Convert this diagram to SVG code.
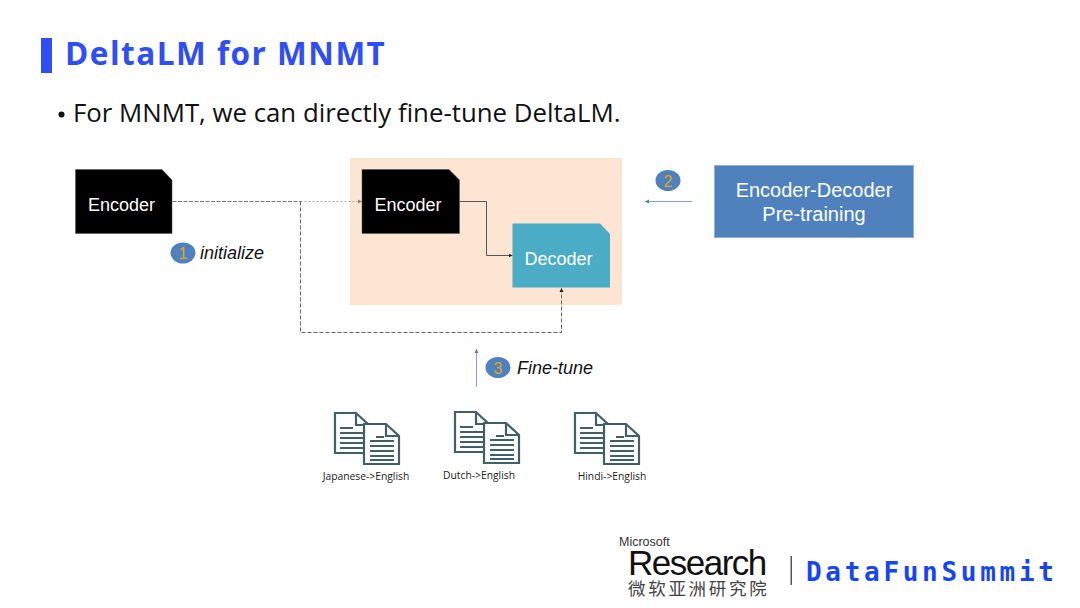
<svg xmlns="http://www.w3.org/2000/svg" width="1080" height="608" viewBox="0 0 1080 608">
  <style>
    .box-label { font: 18px "Liberation Sans", Arial, sans-serif; fill: #fff; text-anchor: middle; }
    .box-label-lg { font: 20px "Liberation Sans", Arial, sans-serif; fill: #fff; text-anchor: middle; }
    .step { font: italic 18px "Liberation Sans", Arial, sans-serif; fill: #111; }
    .badge { fill: #4f81bd; }
    .badge-num { font: 16px "Liberation Sans", Arial, sans-serif; fill: #e0a820; text-anchor: middle; }
    .doc-label { font: 10.300px "Open Sans", "Noto Sans", sans-serif; fill: #222; text-anchor: middle; }
    .wire { fill: none; stroke-width: 1; }
    .page { fill: #fff; stroke: #3f6068; stroke-width: 2.200; }
    .rule { stroke: #3f6068; stroke-width: 2.200; fill: none; }
  </style>
  <defs>
    <marker id="tip-dark" markerWidth="5" markerHeight="5" refX="4" refY="2.5" orient="auto" markerUnits="userSpaceOnUse"><path d="M0 0.5L4 2.5L0 4.5z" fill="#222"/></marker>
    <marker id="tip-grey" markerWidth="5" markerHeight="5" refX="4" refY="2.5" orient="auto" markerUnits="userSpaceOnUse"><path d="M0 0.5L4 2.5L0 4.5z" fill="#888"/></marker>
    <marker id="tip-blue" markerWidth="5" markerHeight="5" refX="4" refY="2.5" orient="auto" markerUnits="userSpaceOnUse"><path d="M0 0.5L4 2.5L0 4.5z" fill="#4f81bd"/></marker>
    <g id="doc-pair">
      <path class="page" d="M1 1H22L35 13V41H1z"/>
      <path class="rule" d="M22 1V13H35M6 16H19M6 21H30M6 26H30M6 31H30M6 36H30"/>
      <path class="page" d="M30 12H52L65 24V52H30z"/>
      <path class="rule" d="M52 12V24H65M42 25H50M36 29H60M36 34H60M36 39H60M36 44H60M36 48H60"/>
    </g>
  </defs>

  <rect width="1080" height="608" fill="#fff"/>

  <!-- Heading -->
  <rect x="41" y="38" width="11" height="35" fill="#2f4ef5"/>
  <text x="65" y="65" font-family="'Open Sans','Noto Sans',sans-serif" font-weight="700" font-size="31.500" letter-spacing="1.500" fill="#2f4ef5">DeltaLM for MNMT</text>
  <circle cx="61.500" cy="114.500" r="3" fill="#111"/>
  <text x="73" y="122" font-family="'Open Sans','Noto Sans',sans-serif" font-size="25.800" fill="#111">For MNMT, we can directly fine-tune DeltaLM.</text>

  <!-- Shaded model area -->
  <rect x="350" y="158" width="272" height="147" fill="#fde5d4"/>

  <!-- Connectors -->
  <g id="connectors">
    <path class="wire" d="M172.500 201.500H300.500" stroke="#777" stroke-dasharray="4 1.500"/>
    <path class="wire" d="M300.500 201.500H362" stroke="#aaa" stroke-dasharray="2 2" marker-end="url(#tip-grey)"/>
    <path class="wire" d="M300.500 201.500V332.500H561.500V288" stroke="#666" stroke-dasharray="4 2" marker-end="url(#tip-dark)"/>
    <path class="wire" d="M459.500 201.500H486.500V255.500H512.500" stroke="#555" marker-end="url(#tip-dark)"/>
    <path class="wire" d="M692 201.500H645" stroke="#7da5d6" marker-end="url(#tip-blue)"/>
    <path class="wire" d="M476.500 387V349" stroke="#7da5d6" marker-end="url(#tip-blue)"/>
  </g>

  <!-- Nodes -->
  <g id="encoder-source">
    <path d="M75.500 169.500H162L172 180V233.500H75.500z" fill="#000" stroke="#555" stroke-width="0.500"/>
    <text class="box-label" x="121.500" y="211">Encoder</text>
  </g>
  <g id="encoder-target">
    <path d="M362 169.500H449L459.500 180V233.500H362z" fill="#000" stroke="#555" stroke-width="0.500"/>
    <text class="box-label" x="408" y="211">Encoder</text>
  </g>
  <g id="decoder">
    <path d="M512.500 223.500H600L610 234V287.500H512.500z" fill="#4bacc6"/>
    <text class="box-label" x="558.500" y="265">Decoder</text>
  </g>
  <g id="pretraining">
    <rect x="714.500" y="165.500" width="199" height="72" fill="#4f81bd" stroke="#8fb0d8"/>
    <text class="box-label-lg" x="814" y="197">Encoder-Decoder</text>
    <text class="box-label-lg" x="814" y="221">Pre-training</text>
  </g>

  <!-- Numbered steps -->
  <g id="step-1">
    <ellipse class="badge" cx="183" cy="253" rx="12.500" ry="10.500"/>
    <text class="badge-num" x="183" y="259">1</text>
    <text class="step" x="200" y="259">initialize</text>
  </g>
  <g id="step-2">
    <ellipse class="badge" cx="668" cy="180.500" rx="12.500" ry="10.500"/>
    <text class="badge-num" x="668" y="186.500">2</text>
  </g>
  <g id="step-3">
    <ellipse class="badge" cx="498" cy="367.500" rx="12.500" ry="10.500"/>
    <text class="badge-num" x="498" y="373.500">3</text>
    <text class="step" x="517" y="374">Fine-tune</text>
  </g>

  <!-- Language-pair corpora -->
  <g id="corpus-ja">
    <use href="#doc-pair" x="334" y="412"/>
    <text class="doc-label" x="366" y="480">Japanese-&gt;English</text>
  </g>
  <g id="corpus-nl">
    <use href="#doc-pair" x="454" y="411"/>
    <text class="doc-label" x="479" y="479">Dutch-&gt;English</text>
  </g>
  <g id="corpus-hi">
    <use href="#doc-pair" x="574" y="412"/>
    <text class="doc-label" x="612" y="480">Hindi-&gt;English</text>
  </g>

  <!-- Footer marks -->
  <g id="footer">
    <text x="619" y="546" font-family="'Liberation Sans',Arial,sans-serif" font-size="12.500" fill="#333">Microsoft</text>
    <text x="628" y="575" font-family="'Liberation Sans',Arial,sans-serif" font-size="35" letter-spacing="-1.500" fill="#111">Research</text>
    <text x="628" y="595" font-family="'Noto Sans CJK SC',sans-serif" font-size="17.500" letter-spacing="2.700" fill="#444">微软亚洲研究院</text>
    <rect x="790.500" y="556" width="1.500" height="29" fill="#555"/>
    <text x="806" y="581" font-family="'DejaVu Sans Mono',monospace" font-weight="700" font-size="26" letter-spacing="3.700" fill="#1746f0">DataFunSummit</text>
  </g>
</svg>
